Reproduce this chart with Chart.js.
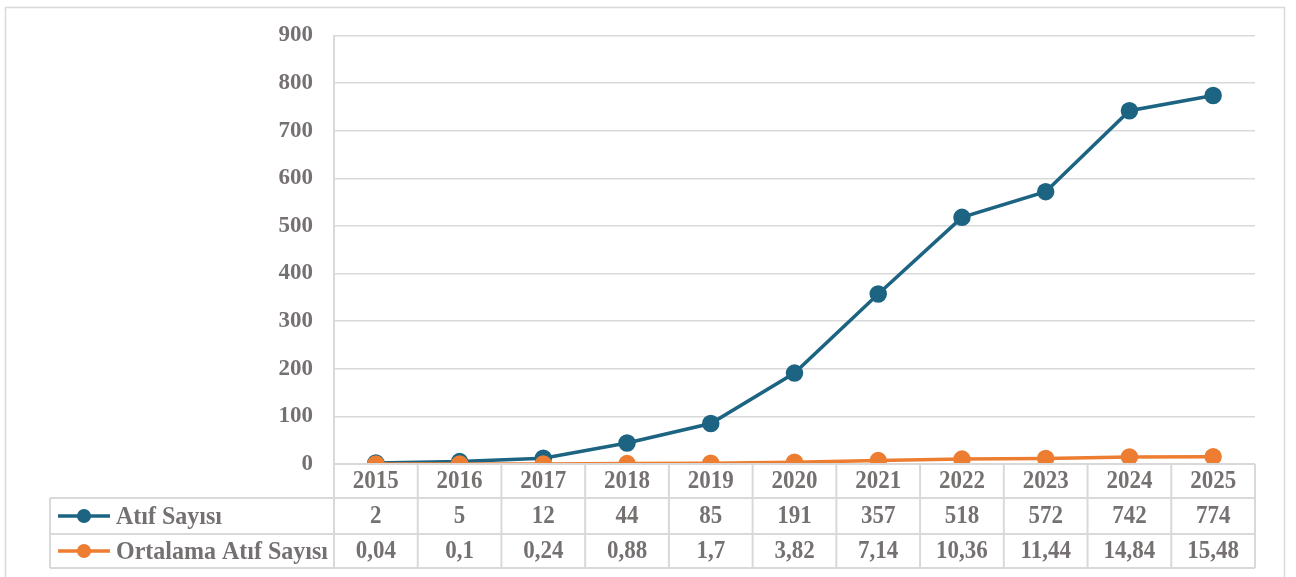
<!DOCTYPE html>
<html>
<head>
<meta charset="utf-8">
<script src="https://cdn.jsdelivr.net/npm/chart.js@4.4.1/dist/chart.umd.min.js"></script>
<style>
  html, body { margin: 0; padding: 0; background: #ffffff; }
  #wrap { position: relative; width: 1296px; height: 577px; overflow: hidden; }
</style>
</head>
<body>
<div id="wrap"><canvas id="c" width="1296" height="577"></canvas></div>
<script>
// ---- data ----
const years = ['2015','2016','2017','2018','2019','2020','2021','2022','2023','2024','2025'];
const atifSayisi = [2, 5, 12, 44, 85, 191, 357, 518, 572, 742, 774];
const ortalamaAtif = [0.04, 0.1, 0.24, 0.88, 1.7, 3.82, 7.14, 10.36, 11.44, 14.84, 15.48];
const seriesNames = ['Atıf Sayısı', 'Ortalama Atıf Sayısı'];
const yTicks = [0, 100, 200, 300, 400, 500, 600, 700, 800, 900];

const BLUE = '#1d6483';
const ORANGE = '#ed7d31';
const GRID = '#d9d9d9';
const TEXT = '#767171';
const FONT_FAMILY = '"Liberation Serif", "Times New Roman", serif';

function fmt(v) { return String(v).replace('.', ','); }

// draw text slightly stretched vertically, like the reference
function tallText(ctx, t, x, y) {
  ctx.save();
  ctx.translate(x, y);
  ctx.scale(1, 1.08);
  ctx.fillText(t, 0, 0);
  ctx.restore();
}

const tablePlugin = {
  id: 'dataTable',
  afterDraw(chart) {
    const ctx = chart.ctx;
    const xs = chart.scales.x;
    const area = chart.chartArea;
    const left = area.left, right = area.right, top = area.bottom;
    const rowH = [34, 36, 34];
    const y1 = top + rowH[0], y2 = y1 + rowH[1], y3 = y2 + rowH[2];
    const tableLeft = 50;
    const n = years.length;
    const cw = (right - left) / n;

    ctx.save();
    // outer frame
    ctx.strokeStyle = GRID;
    ctx.lineWidth = 1.5;
    ctx.strokeRect(5.5, 7.5, 1279, 620);

    // table lines
    ctx.strokeStyle = GRID;
    ctx.lineWidth = 2;
    ctx.beginPath();
    ctx.moveTo(left, top); ctx.lineTo(right, top);
    [y1, y2, y3].forEach(y => { ctx.moveTo(tableLeft, y); ctx.lineTo(right, y); });
    ctx.moveTo(tableLeft, y1); ctx.lineTo(tableLeft, y3);
    for (let i = 0; i <= n; i++) {
      const x = left + i * cw;
      ctx.moveTo(x, top); ctx.lineTo(x, y3);
    }
    ctx.stroke();

    // text
    ctx.fillStyle = TEXT;
    ctx.textAlign = 'center';
    ctx.textBaseline = 'middle';
    ctx.font = 'bold 23px ' + FONT_FAMILY;
    const rows = [[years, top, y1], [atifSayisi.map(fmt), y1, y2], [ortalamaAtif.map(fmt), y2, y3]];
    rows.forEach(([vals, a, b]) => {
      vals.forEach((t, i) => {
        const x = xs.getPixelForValue(i);
        tallText(ctx, t, x, (a + b) / 2 + 1);
      });
    });

    // legend keys
    ctx.font = 'bold 24px ' + FONT_FAMILY;
    const keys = [[BLUE, seriesNames[0], y1, y2], [ORANGE, seriesNames[1], y2, y3]];
    keys.forEach(([col, name, a, b]) => {
      const cy = (a + b) / 2;
      ctx.strokeStyle = col;
      ctx.lineWidth = 3.5;
      ctx.beginPath();
      ctx.moveTo(58, cy); ctx.lineTo(110, cy);
      ctx.stroke();
      ctx.fillStyle = col;
      ctx.beginPath();
      ctx.arc(84, cy, 7, 0, Math.PI * 2);
      ctx.fill();
      ctx.fillStyle = TEXT;
      ctx.textAlign = 'left';
      tallText(ctx, name, 116, cy + 1);
    });
    ctx.restore();
  }
};

new Chart(document.getElementById('c'), {
  type: 'line',
  data: {
    labels: years,
    datasets: [
      {
        label: seriesNames[0],
        data: atifSayisi,
        borderColor: BLUE,
        backgroundColor: BLUE,
        borderWidth: 3.5,
        pointRadius: 7,
        pointHoverRadius: 7,
        pointBackgroundColor: BLUE,
        pointBorderColor: BLUE,
        tension: 0,
        order: 1
      },
      {
        label: seriesNames[1],
        data: ortalamaAtif,
        borderColor: ORANGE,
        backgroundColor: ORANGE,
        borderWidth: 3.5,
        pointRadius: 7,
        pointHoverRadius: 7,
        pointBackgroundColor: ORANGE,
        pointBorderColor: ORANGE,
        tension: 0,
        order: 0
      }
    ]
  },
  options: {
    responsive: false,
    animation: false,
    events: [],
    layout: { padding: { left: 0, right: 41, top: 35.5, bottom: 113 } },
    plugins: { legend: { display: false }, tooltip: { enabled: false } },
    scales: {
      x: {
        type: 'category',
        offset: true,
        display: false
      },
      y: {
        min: 0,
        max: 900,
        afterFit(scale) { scale.width = 334; },
        afterBuildTicks(scale) { scale.ticks = yTicks.map(v => ({ value: v })); },
        border: { display: true, color: GRID, width: 2 },
        grid: { color: GRID, lineWidth: 1.5, drawTicks: false },
        ticks: {
          padding: 21,
          color: TEXT,
          font: { family: FONT_FAMILY, size: 23, weight: 'bold' }
        }
      }
    }
  },
  plugins: [tablePlugin]
});
</script>
</body>
</html>
